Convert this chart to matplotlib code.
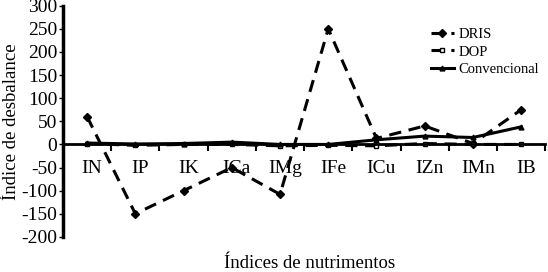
import matplotlib
matplotlib.use("Agg")
import matplotlib.pyplot as plt
import numpy as np

plt.rcParams['font.family'] = ['Liberation Serif', 'DejaVu Serif']
plt.rcParams['axes.unicode_minus'] = False

indices = ['IN', 'IP', 'IK', 'ICa', 'IMg', 'IFe', 'ICu', 'IZn', 'IMn', 'IB']
dris = [60, -150, -100, -50, -108, 250, 13, 40, 2, 75]
dop = [2, -2, 0, 0, -3, -2, -3, 2, 0, 0]
convencional = [3, 1, 2, 5, 0, 0, 10, 18, 15, 38]
y_ticks = [-200, -150, -100, -50, 0, 50, 100, 150, 200, 250, 300]

fig = plt.figure(figsize=(5.48, 2.72), dpi=100)
ax = fig.add_axes([0.115, 0.129, 0.88, 0.85])

x = np.arange(len(indices))
ax.plot(x, dris, color='black', lw=2.2, ls=(0, (4, 2.5)), marker='D', ms=4, label='DRIS')
ax.plot(x, dop, color='black', lw=2.2, ls=(0, (4, 2.5)), marker='s', ms=3.5,
        mfc='white', mew=1, label='DOP')
ax.plot(x, convencional, color='black', lw=2.2, marker='^', ms=3.5, label='Convencional')

ax.set_xlim(-0.5, len(indices) - 0.5)
ax.set_ylim(-200, 300)
ax.set_yticks(y_ticks)
ax.tick_params(axis='y', labelsize=14, length=3, width=1, pad=1)

ax.spines['bottom'].set_position(('data', 0))
ax.spines['top'].set_visible(False)
ax.spines['right'].set_visible(False)
ax.spines['left'].set_linewidth(2.5)
ax.spines['bottom'].set_linewidth(2)

ax.set_xticks(np.arange(len(indices) + 1) - 0.5)
ax.set_xticklabels([])
ax.set_xticks(x + 0.1, minor=True)
ax.set_xticklabels(indices, minor=True)
ax.tick_params(axis='x', which='major', length=5, width=1.5, direction='out')
ax.tick_params(axis='x', which='minor', length=0, labelsize=14, pad=11)

ax.set_ylabel('Índice de desbalance', fontsize=13.5, labelpad=1)
fig.text(0.565, 0.0, 'Índices de nutrimentos', fontsize=13.5, ha='center', va='bottom')

ax.legend(loc='upper left', bbox_to_anchor=(0.75, 0.93), frameon=False, fontsize=10.5,
          handlelength=1.6, handletextpad=0.3, labelspacing=0.3, borderaxespad=0)

fig.savefig('out.png', dpi=100)
